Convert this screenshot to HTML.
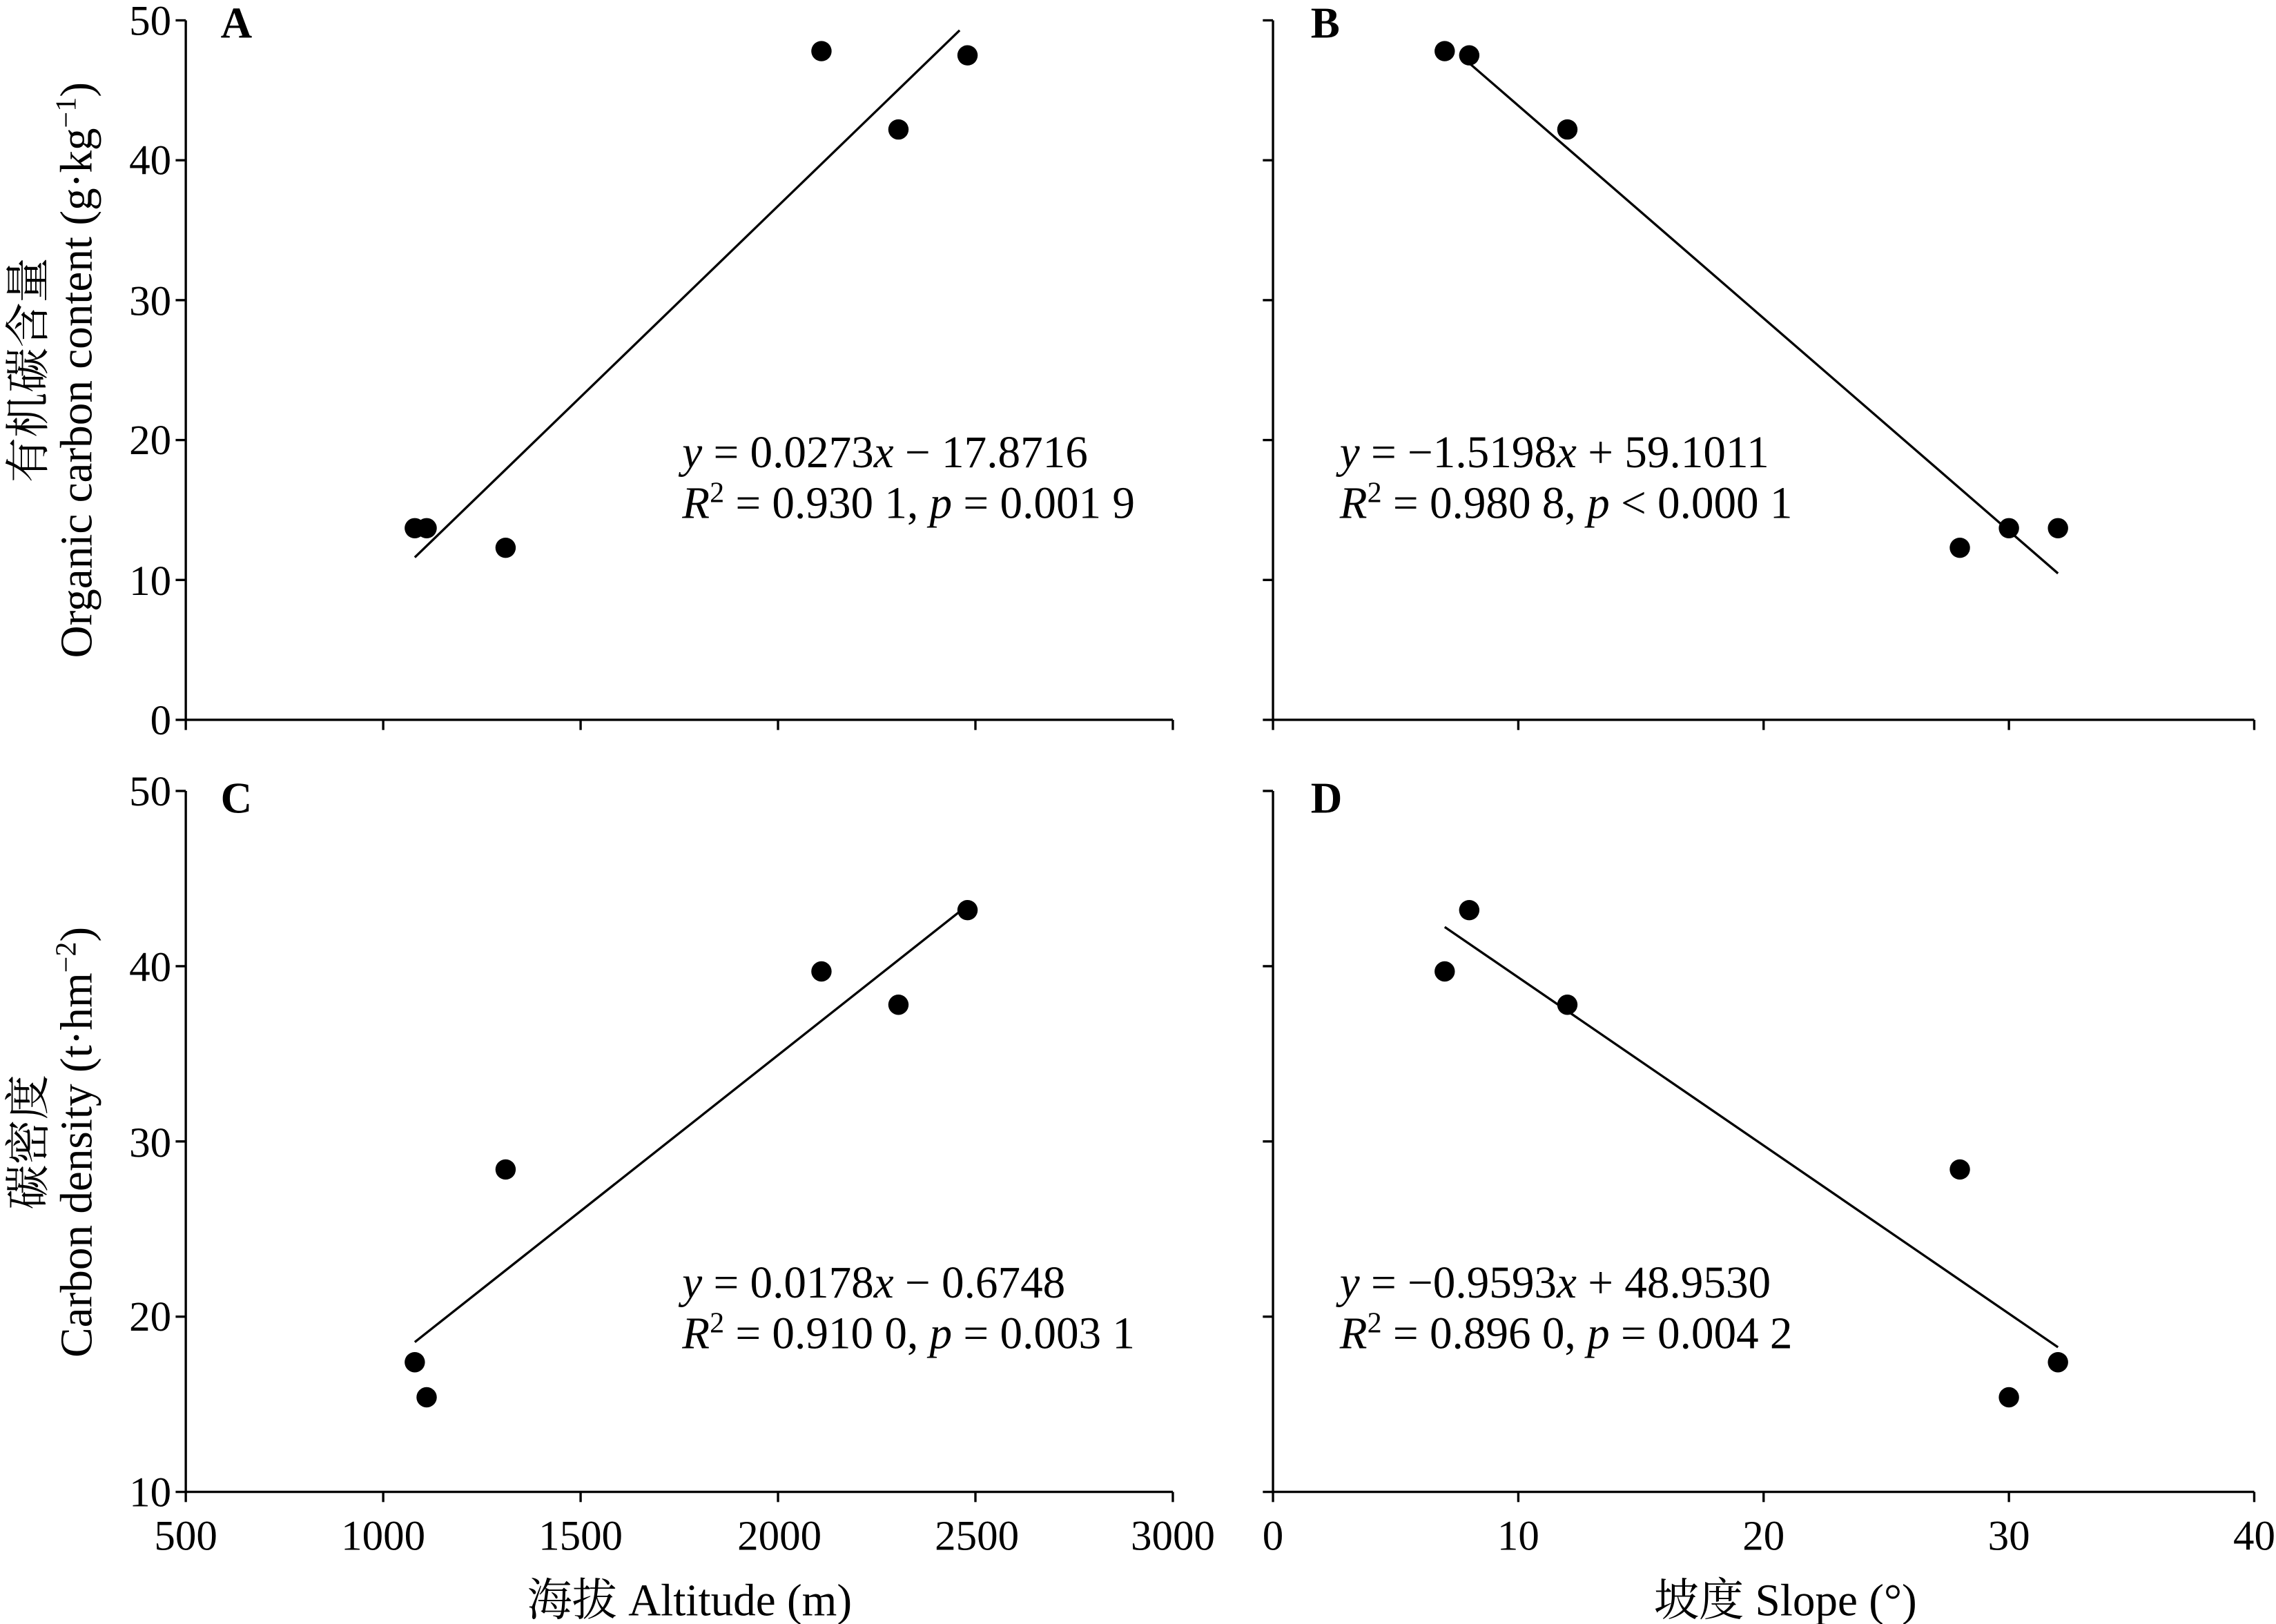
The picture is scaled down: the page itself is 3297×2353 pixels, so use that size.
<!DOCTYPE html>
<html><head><meta charset="utf-8"><style>
html,body{margin:0;padding:0;background:#fff;}
svg{display:block;}
text{font-family:"Liberation Serif","Noto Serif CJK SC",serif;fill:#000;}
</style></head><body>
<svg id="s" width="3297" height="2353" viewBox="0 0 1568 1119" xmlns="http://www.w3.org/2000/svg">
<g stroke="#000" stroke-width="1.6" fill="none" id="ax">
<path d="M128 14V496H808"/>
<path d="M877 14V496H1553"/>
<path d="M128 545V1028H808"/>
<path d="M877 545V1028H1553"/>
</g>
<g font-size="29" text-anchor="end">
<text x="118" y="24">50</text><text x="118" y="120">40</text><text x="118" y="217">30</text><text x="118" y="313">20</text><text x="118" y="410">10</text><text x="118" y="506">0</text>
<text x="118" y="555">50</text><text x="118" y="676">40</text><text x="118" y="797">30</text><text x="118" y="917">20</text><text x="118" y="1038">10</text>
</g>
<g font-size="29" text-anchor="middle">
<text x="128" y="1068">500</text><text x="264" y="1068">1000</text><text x="400" y="1068">1500</text><text x="537" y="1068">2000</text><text x="673" y="1068">2500</text><text x="808" y="1068">3000</text>
<text x="877" y="1068">0</text><text x="1046" y="1068">10</text><text x="1215" y="1068">20</text><text x="1384" y="1068">30</text><text x="1553" y="1068">40</text>
<text x="475" y="1113" font-size="31">海拔 Altitude (m)</text>
<text x="1230" y="1113" font-size="31">坡度 Slope (°)</text>
</g>
<g font-size="30" font-weight="bold">
<text x="152" y="26">A</text><text x="903" y="26">B</text><text x="152" y="560">C</text><text x="903" y="560">D</text>
</g>
<g font-size="31">
<text x="470" y="322"><tspan font-style="italic">y</tspan> = 0.0273<tspan font-style="italic">x</tspan> − 17.8716</text>
<text x="470" y="357"><tspan font-style="italic">R</tspan><tspan font-size="20" dy="-11">2</tspan><tspan dy="11"> = 0.930 1, </tspan><tspan font-style="italic">p</tspan> = 0.001 9</text>
<text x="923" y="322"><tspan font-style="italic">y</tspan> = −1.5198<tspan font-style="italic">x</tspan> + 59.1011</text>
<text x="923" y="357"><tspan font-style="italic">R</tspan><tspan font-size="20" dy="-11">2</tspan><tspan dy="11"> = 0.980 8, </tspan><tspan font-style="italic">p</tspan> &lt; 0.000 1</text>
<text x="470" y="894"><tspan font-style="italic">y</tspan> = 0.0178<tspan font-style="italic">x</tspan> − 0.6748</text>
<text x="470" y="929"><tspan font-style="italic">R</tspan><tspan font-size="20" dy="-11">2</tspan><tspan dy="11"> = 0.910 0, </tspan><tspan font-style="italic">p</tspan> = 0.003 1</text>
<text x="923" y="894"><tspan font-style="italic">y</tspan> = −0.9593<tspan font-style="italic">x</tspan> + 48.9530</text>
<text x="923" y="929"><tspan font-style="italic">R</tspan><tspan font-size="20" dy="-11">2</tspan><tspan dy="11"> = 0.896 0, </tspan><tspan font-style="italic">p</tspan> = 0.004 2</text>
</g>
<g font-size="31" text-anchor="middle">
<text transform="translate(30,255) rotate(-90)">有机碳含量</text>
<text transform="translate(63,255) rotate(-90)">Organic carbon content (g·kg<tspan font-size="20" dy="-11">−1</tspan><tspan dy="11">)</tspan></text>
<text transform="translate(30,787) rotate(-90)">碳密度</text>
<text transform="translate(63,787) rotate(-90)">Carbon density (t·hm<tspan font-size="20" dy="-11">−2</tspan><tspan dy="11">)</tspan></text>
</g>
<g id="dyn"></g>
</svg>
<script>
var NS="http://www.w3.org/2000/svg",g=document.getElementById("dyn");
function el(n,a){var e=document.createElementNS(NS,n);for(var k in a)e.setAttribute(k,a[k]);g.appendChild(e);}
var P=[
 {x0:128,xs:136/500,xo:500,y0:496,ys:9.64,yo:0,yt:[0,10,20,30,40,50],xt:[500,1000,1500,2000,2500,3000],
  pts:[[1080,13.7],[1110,13.7],[1310,12.3],[2110,47.8],[2305,42.2],[2480,47.5]],f:function(x){return 0.0273*x-17.8716},l:[1080,2460]},
 {x0:877,xs:16.9,xo:0,y0:496,ys:9.64,yo:0,yt:[0,10,20,30,40,50],xt:[0,10,20,30,40],
  pts:[[7,47.8],[8,47.5],[12,42.2],[28,12.3],[30,13.7],[32,13.7]],f:function(x){return -1.5198*x+59.1011},l:[8,32]},
 {x0:128,xs:136/500,xo:500,y0:1028,ys:12.075,yo:10,yt:[10,20,30,40,50],xt:[500,1000,1500,2000,2500,3000],
  pts:[[1080,17.4],[1110,15.4],[1310,28.4],[2110,39.7],[2305,37.8],[2480,43.2]],f:function(x){return 0.0178*x-0.6748},l:[1080,2460]},
 {x0:877,xs:16.9,xo:0,y0:1028,ys:12.075,yo:10,yt:[10,20,30,40,50],xt:[0,10,20,30,40],
  pts:[[7,39.7],[8,43.2],[12,37.8],[28,28.4],[30,15.4],[32,17.4]],f:function(x){return -0.9593*x+48.953},l:[7,32]}
];
P.forEach(function(p){
 function X(x){return p.x0+(x-p.xo)*p.xs} function Y(y){return p.y0-(y-p.yo)*p.ys}
 p.yt.forEach(function(v){el("line",{x1:p.x0-7,x2:p.x0,y1:Y(v),y2:Y(v),stroke:"#000","stroke-width":1.6})});
 p.xt.forEach(function(v){el("line",{x1:X(v),x2:X(v),y1:p.y0,y2:p.y0+7,stroke:"#000","stroke-width":1.6})});
 el("line",{x1:X(p.l[0]),y1:Y(p.f(p.l[0])),x2:X(p.l[1]),y2:Y(p.f(p.l[1])),stroke:"#000","stroke-width":1.6});
 p.pts.forEach(function(q){el("circle",{cx:X(q[0]),cy:Y(q[1]),r:7,fill:"#000"})});
});
</script>
</body></html>
